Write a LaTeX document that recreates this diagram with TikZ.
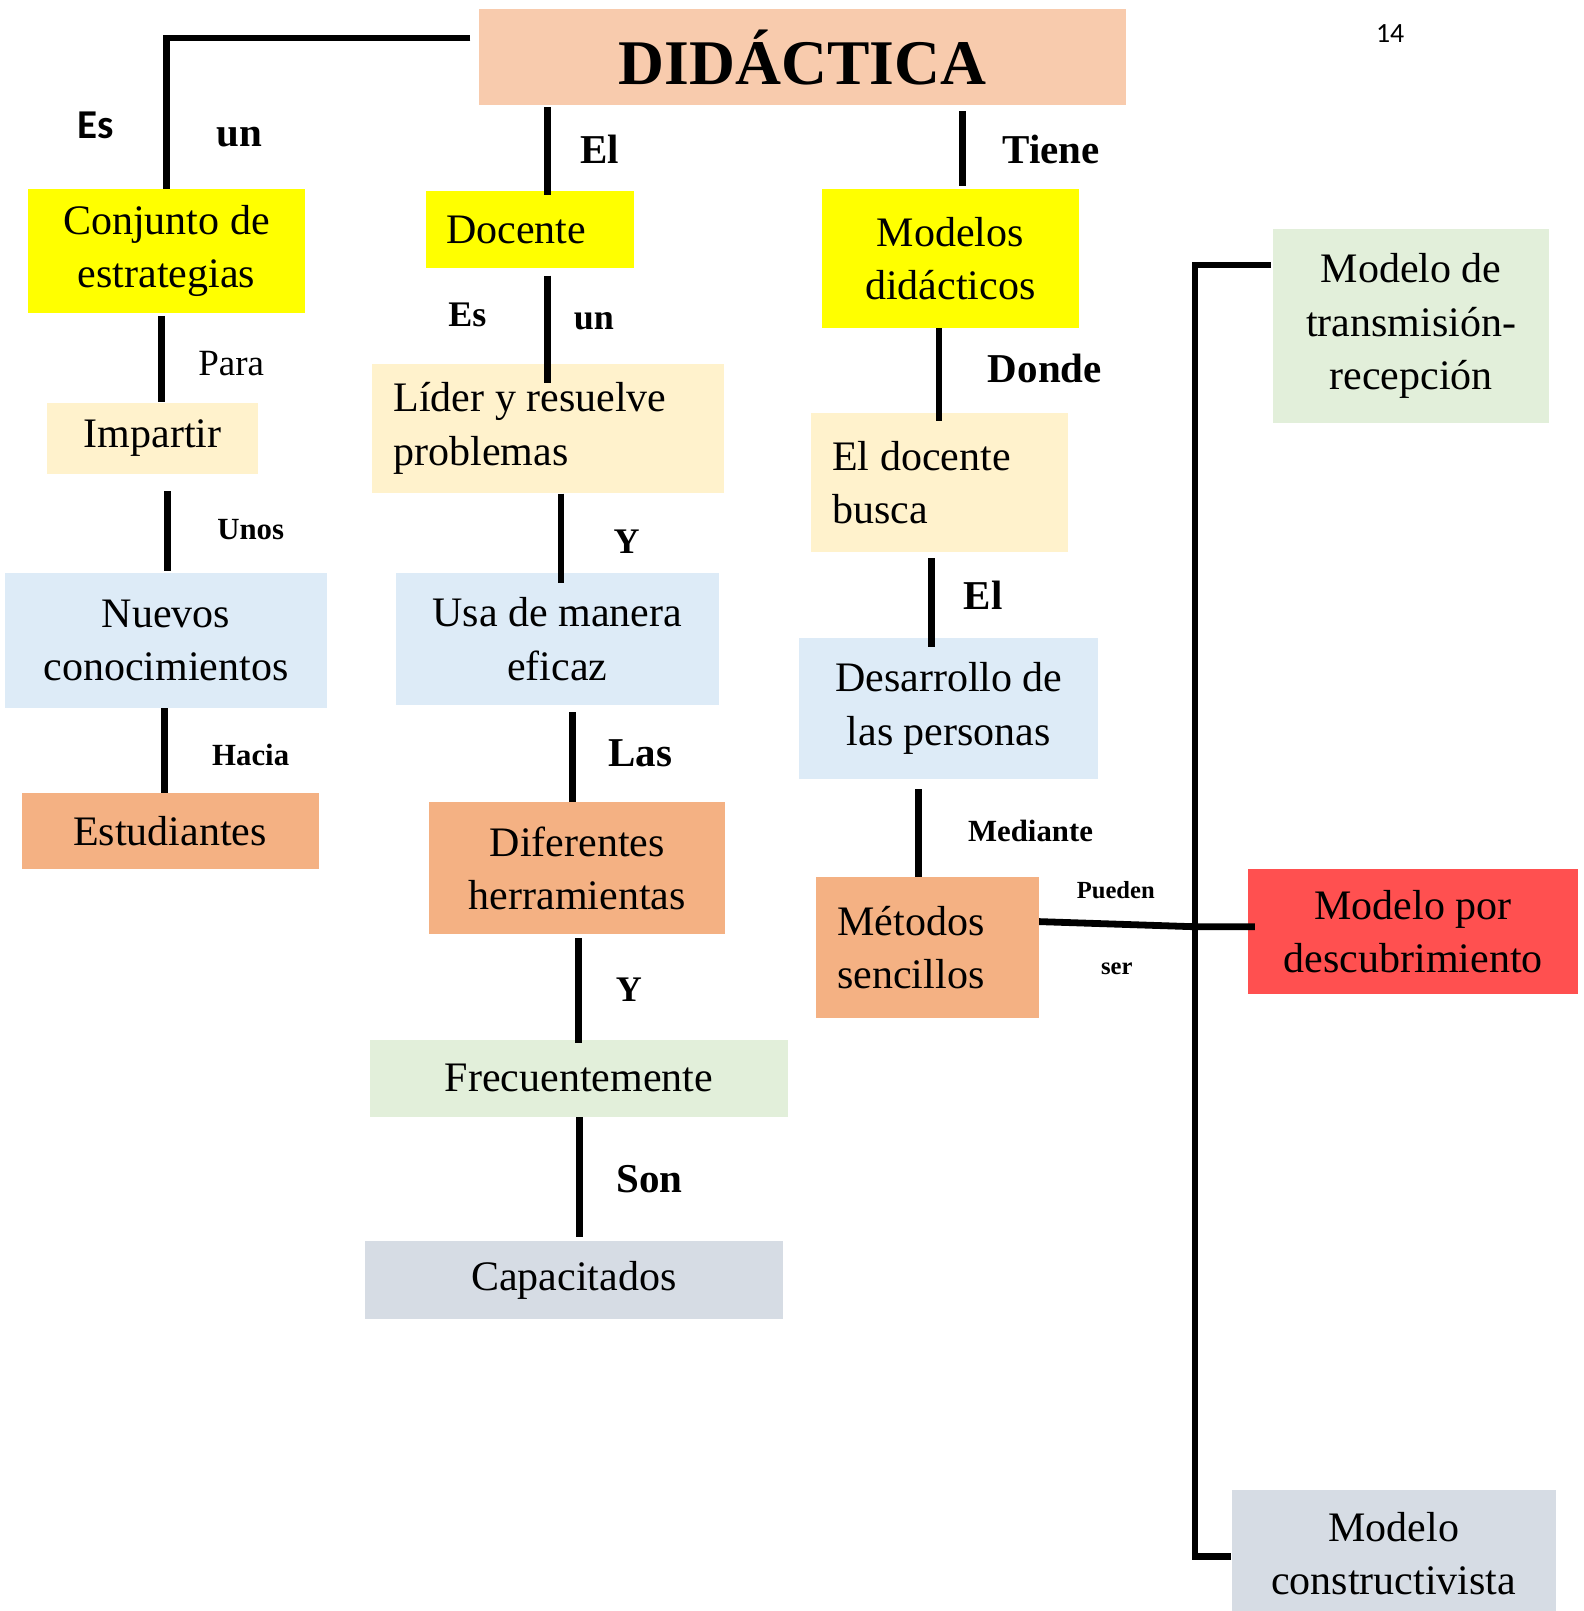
\documentclass[tikz,border=0pt]{standalone}
\usepackage{fontspec}
\setmainfont{Liberation Serif}
\newfontfamily\calibri{Carlito}
\usepackage{xcolor}
\usepackage{tikz}
\definecolor{didacfill}{HTML}{F8CBAD}
\definecolor{amarillo}{HTML}{FFFF00}
\definecolor{crema}{HTML}{FFF2CC}
\definecolor{celeste}{HTML}{DDEBF7}
\definecolor{salmon}{HTML}{F4B183}
\definecolor{verde}{HTML}{E2EFDA}
\definecolor{gris}{HTML}{D6DCE4}
\definecolor{rojo}{HTML}{FF5050}
\newcommand{\pxu}{0.5137pt}

\begin{document}
\begin{tikzpicture}[x=\pxu,y=-\pxu]
\tikzstyle{every node}=[font=\fontsize{21}{26.7}\selectfont]
\tikzstyle{box}=[inner sep=0pt, align=center]
\tikzset{sz/.style 2 args={minimum width=#1*\pxu, minimum height=#2*\pxu}}
\tikzstyle{link}=[line width=3.4pt]
\tikzstyle{lbl}=[font=\fontsize{20.5}{24}\selectfont\bfseries]
\tikzstyle{lblm}=[font=\fontsize{18}{21}\selectfont\bfseries]
\tikzstyle{lbls}=[font=\fontsize{15.4}{18}\selectfont\bfseries]
\tikzstyle{lblt}=[font=\fontsize{12.3}{14}\selectfont\bfseries]
\useasboundingbox (0,0) rectangle (1541.6,1568);

% cajas
\node[box, sz={630}{93}, fill=didacfill, font=\fontsize{31.8}{36}\selectfont\bfseries] (didac) at (781,55.5) {DIDÁCTICA};
\node[font=\calibri\fontsize{13.9}{16}\selectfont] (pag) at (1353,33) {14};
\node[box, sz={270}{121}, fill=amarillo] (conj) at (162,244.5) {Conjunto de\\estrategias};
\node[box, sz={202}{75}, fill=amarillo, align=flush left, text width=84pt] (doc) at (516,223.5) {Docente};
\node[box, sz={250}{135}, fill=amarillo] (mod) at (925,251.5) {Modelos\\didácticos};
\node[box, sz={269}{189}, fill=verde] (trans) at (1373.5,317.5) {Modelo de\\transmisión-\\recepción};
\node[box, sz={205}{69}, fill=crema] (imp) at (148.5,426.5) {Impartir};
\node[box, sz={343}{126}, fill=crema, align=flush left, text width=154.6pt] (lider) at (533.5,417) {Líder y resuelve\\problemas};
\node[box, sz={250}{135}, fill=crema, align=flush left, text width=106.8pt] (busca) at (914,469.5) {El docente\\busca};
\node[box, sz={313}{131}, fill=celeste] (nuevos) at (161.5,623.5) {Nuevos\\conocimientos};
\node[box, sz={315}{128}, fill=celeste] (usa) at (542.5,622) {Usa de manera\\eficaz};
\node[box, sz={291}{137}, fill=celeste] (desa) at (923.5,689.5) {Desarrollo de\\las personas};
\node[box, sz={289}{74}, fill=salmon] (estu) at (165.5,809) {Estudiantes};
\node[box, sz={288}{128}, fill=salmon] (dif) at (562,845) {Diferentes\\herramientas};
\node[box, sz={217}{137}, fill=salmon, align=flush left, text width=89.9pt] (met) at (902.5,922.5) {Métodos\\sencillos};
\node[box, sz={321}{121}, fill=rojo] (desc) at (1375.5,906.5) {Modelo por\\descubrimiento};
\node[box, sz={407}{75}, fill=verde] (frec) at (563.5,1049.5) {Frecuentemente};
\node[box, sz={407}{76}, fill=gris] (cap) at (558.5,1246) {Capacitados};
\node[box, sz={315}{124}, fill=gris] (cons) at (1356.5,1512) {Modelo\\constructivista};
\fill[gris] (cons.south west) rectangle (cons.south east |- 0,1580);

% palabras de enlace
\node[font=\calibri\fontsize{20.5}{24}\selectfont\bfseries] (es1) at (93,122) {Es};
\node[lbl] (un1) at (233,133) {un};
\node[lbl] (el1) at (584,145) {El};
\node[lbl] (tiene) at (1023,145) {Tiene};
\node[font=\fontsize{18.5}{22}\selectfont] (para) at (225,354) {Para};
\node[lblm] (es2) at (455,306) {Es};
\node[lblm] (un2) at (578,313) {un};
\node[lbl] (donde) at (1017,359) {Donde};
\node[lbls] (unos) at (244,515) {Unos};
\node[lblm] (y1) at (610,527) {Y};
\node[lbl] (el2) at (957,579) {El};
\node[lbls] (hacia) at (244,735) {Hacia};
\node[lbl] (las) at (623,733) {Las};
\node[lbls] (mediante) at (1003,809) {Mediante};
\node[lblt] (pueden) at (1086,866) {Pueden};
\node[lblt] (ser) at (1087,943) {ser};
\node[lblm] (y2) at (612,963) {Y};
\node[lbl] (son) at (632,1148) {Son};

% conectores
\draw[link] ([xshift=-4pt]didac.west |- 0,37) -| (conj.north);
\draw[link] ([yshift=-1pt]didac.south -| 533,0) -- ([yshift=-2pt]doc.north -| 533,0);
\draw[link] ([yshift=-3pt]didac.south -| 937,0) -- ([yshift=1.5pt]mod.north -| 937,0);
\draw[link] ([yshift=-1pt]conj.south -| 157,0) -- (imp.north -| 157,0);
\draw[link] ([yshift=-3.5pt]doc.south -| 533,0) -- ([yshift=-10pt]lider.north -| 533,0);
\draw[link] (mod.south -| 914,0) -- ([yshift=-4pt]busca.north -| 914,0);
\draw[link] ([yshift=-8.5pt]imp.south -| 163,0) -- ([yshift=1pt]nuevos.north -| 163,0);
\draw[link] (lider.south -| 546,0) -- ([yshift=-5pt]usa.north -| 546,0);
\draw[link] ([yshift=-3pt]busca.south -| 907,0) -- ([yshift=-4.5pt]desa.north -| 907,0);
\draw[link] (nuevos.south -| 160,0) -- (estu.north -| 160,0);
\draw[link] ([yshift=-3.5pt]usa.south -| 557,0) -- (dif.north -| 557,0);
\draw[link] ([yshift=-5pt]desa.south -| 894,0) -- (met.north -| 894,0);
\draw[link] ([yshift=-2pt]dif.south -| 563,0) -- ([yshift=-2pt]frec.north -| 563,0);
\draw[link] (frec.south -| 564,0) -- ([yshift=2pt]cap.north -| 564,0);

\coordinate (spinetop) at (1163,258);
\coordinate (spinemid) at (1163,902);
\coordinate (spinebot) at (1163,1515);
\draw[link] ([xshift=-1pt]trans.west |- spinetop) -- (spinetop) -- (spinebot) -- (cons.west |- spinebot);
\draw[link] (met.east |- 0,897) -- (spinemid) -- ([xshift=3.5pt]desc.west |- spinemid);
\end{tikzpicture}
\end{document}
